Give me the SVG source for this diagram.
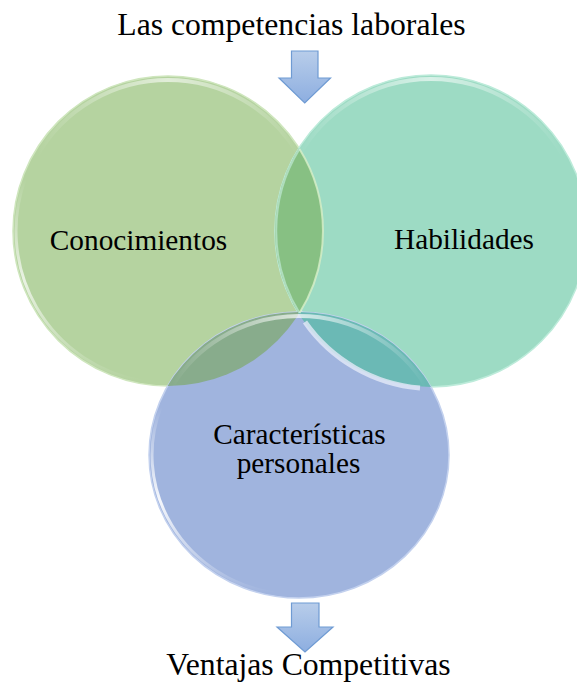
<svg xmlns="http://www.w3.org/2000/svg" width="577" height="682" viewBox="0 0 577 682">
<style>
text{font-family:"Liberation Serif","Times New Roman",serif;fill:#000;text-anchor:middle}
.t{font-size:31.7px}
.n{font-size:29.3px}
.hl{fill:none;stroke-width:4;stroke-linecap:round}
.rim{fill:none;stroke-width:3;stroke-linecap:round}
.arrow{fill:url(#ag);stroke:#6F9BD3;stroke-width:1.2}
</style>
<defs>
<linearGradient id="ag" x1="0" y1="0" x2="0" y2="1">
<stop offset="0" stop-color="#B8CDEA"/>
<stop offset="1" stop-color="#8DAEE0"/>
</linearGradient>
<linearGradient id="hG" gradientUnits="userSpaceOnUse" x1="37" y1="0" x2="299" y2="0">
<stop offset="0" stop-color="#fff" stop-opacity="0"/>
<stop offset="0.5" stop-color="#fff" stop-opacity="0.6"/>
<stop offset="1" stop-color="#fff" stop-opacity="0"/>
</linearGradient>
<linearGradient id="hT" gradientUnits="userSpaceOnUse" x1="299" y1="0" x2="563" y2="0">
<stop offset="0" stop-color="#fff" stop-opacity="0"/>
<stop offset="0.5" stop-color="#fff" stop-opacity="0.6"/>
<stop offset="1" stop-color="#fff" stop-opacity="0"/>
</linearGradient>
<linearGradient id="hB" gradientUnits="userSpaceOnUse" x1="172" y1="0" x2="426" y2="0">
<stop offset="0" stop-color="#fff" stop-opacity="0"/>
<stop offset="0.5" stop-color="#fff" stop-opacity="0.7"/>
<stop offset="1" stop-color="#fff" stop-opacity="0"/>
</linearGradient>
<linearGradient id="rG" gradientUnits="userSpaceOnUse" x1="0" y1="179" x2="0" y2="381">
<stop offset="0" stop-color="#fff" stop-opacity="0"/>
<stop offset="0.5" stop-color="#fff" stop-opacity="0.7"/>
<stop offset="1" stop-color="#fff" stop-opacity="0"/>
</linearGradient>
<linearGradient id="rT" gradientUnits="userSpaceOnUse" x1="0" y1="179" x2="0" y2="382">
<stop offset="0" stop-color="#fff" stop-opacity="0"/>
<stop offset="0.5" stop-color="#fff" stop-opacity="0.7"/>
<stop offset="1" stop-color="#fff" stop-opacity="0"/>
</linearGradient>
<linearGradient id="rB" gradientUnits="userSpaceOnUse" x1="0" y1="407" x2="0" y2="593">
<stop offset="0" stop-color="#fff" stop-opacity="0"/>
<stop offset="0.5" stop-color="#fff" stop-opacity="0.9"/>
<stop offset="1" stop-color="#fff" stop-opacity="0"/>
</linearGradient>
<clipPath id="cG"><circle cx="168" cy="231" r="155"/></clipPath>
<clipPath id="cT"><circle cx="431" cy="231" r="156"/></clipPath>
</defs>

<text class="t" x="291.5" y="35">Las competencias laborales</text>

<g id="node-conocimientos">
<circle cx="168" cy="231" r="155" fill="#B5D3A0" stroke="#CFE6BE" stroke-width="1.5"/>
<path class="hl" stroke="url(#hG)" d="M37.2,155.5 A151,151 0 0 1 298.8,155.5"/>
<path class="rim" stroke="url(#rG)" d="M25.2,179 A152,152 0 0 0 141.6,380.7"/>
<text class="n" x="138.5" y="250">Conocimientos</text>
</g>

<g id="node-habilidades">
<circle cx="431" cy="231" r="156" fill="#9DDBC4" stroke="#BDEBDA" stroke-width="1.5"/>
<path class="hl" stroke="url(#hT)" d="M299.4,155 A152,152 0 0 1 562.6,155"/>
<path class="rim" stroke="url(#rT)" d="M287.2,178.7 A153,153 0 0 0 404.4,381.7"/>
<text class="n" x="464" y="249">Habilidades</text>
</g>

<g id="node-caracteristicas">
<ellipse cx="299" cy="455" rx="150" ry="143" fill="#A0B4DE" stroke="#C3D1EE" stroke-width="1.5"/>
<path class="rim" stroke="url(#rB)" d="M160.9,407.1 A147,140 0 0 0 273.5,592.9"/>
<text class="n" x="299.5" y="444">Características</text>
<text class="n" x="298.5" y="473">personales</text>
</g>

<g id="overlaps">
<circle cx="431" cy="231" r="156" fill="#87C083" clip-path="url(#cG)"/>
<ellipse cx="299" cy="455" rx="150" ry="143" fill="#88AC8C" clip-path="url(#cG)"/>
<ellipse cx="299" cy="455" rx="150" ry="143" fill="#6BB9B5" clip-path="url(#cT)"/>
<path fill="none" stroke="#D8EFC8" stroke-width="2" stroke-opacity="0.8" d="M299.5,149 A155,155 0 0 1 299.5,313"/>
<path fill="none" stroke="#C9F0E2" stroke-width="2" stroke-opacity="0.6" d="M299.5,149 A156,156 0 0 0 299.5,313"/>
<path class="hl" stroke="url(#hB)" d="M172.6,385.5 A146,139 0 0 1 425.4,385.5"/>
<path fill="none" stroke="#E4EAF8" stroke-width="5" stroke-opacity="0.8" d="M305,322 A156,156 0 0 0 420,388"/>
</g>

<g id="connectors">
<path class="arrow" d="M291.5,51 H318 V78 H330.5 L304.75,103 L279,78 H291.5 Z"/>
<path class="arrow" d="M291.5,603 H319 V627 H333 L305,652 L277,627 H291.5 Z"/>
</g>

<text class="t" x="308.5" y="675">Ventajas Competitivas</text>
</svg>
